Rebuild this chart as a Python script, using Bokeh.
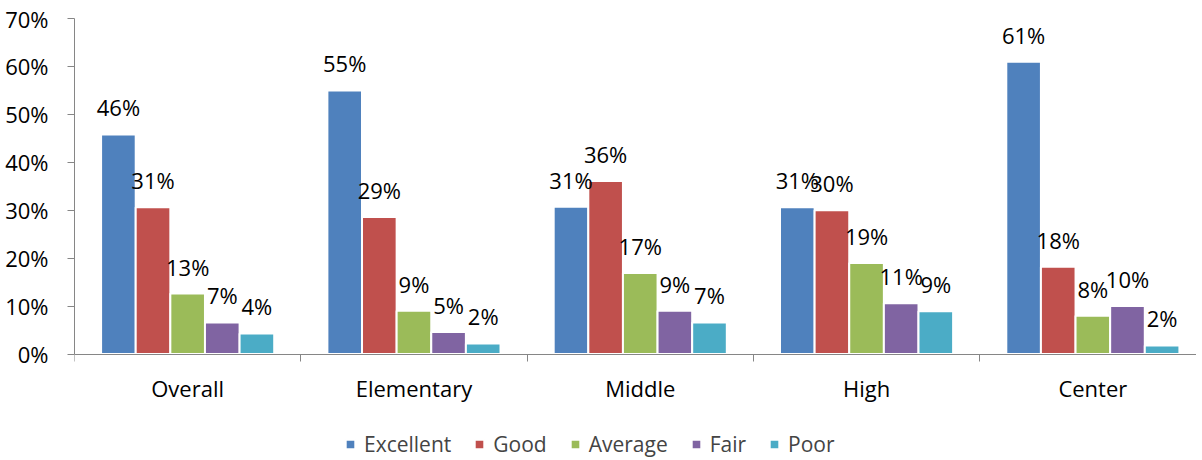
from bokeh.plotting import figure
from bokeh.models import ColumnDataSource, Range1d, FixedTicker, LabelSet, Legend, LegendItem
from bokeh.core.properties import value
from bokeh.embed import file_html
from bokeh.resources import INLINE

categories = ["Overall", "Elementary", "Middle", "High", "Center"]
series = ["Excellent", "Good", "Average", "Fair", "Poor"]
colors = ["#4F81BD", "#C0504D", "#9BBB59", "#8064A2", "#4BACC6"]
excellent = [45.8, 55.0, 30.7, 30.6, 61.0]
good = [30.6, 28.6, 36.1, 30.0, 18.2]
average = [12.6, 9.0, 16.9, 19.0, 8.0]
fair = [6.6, 4.6, 9.0, 10.6, 10.0]
poor = [4.3, 2.2, 6.6, 8.9, 1.8]
y_ticks = [0, 10, 20, 30, 40, 50, 60, 70]

all_values = [excellent, good, average, fair, poor]
FONT = "Open Sans"
FS = "22px"
AXIS_GRAY = "#868686"

p = figure(width=1196, height=458, x_range=Range1d(0, 4.958), y_range=Range1d(-21.8, 70),
           output_backend="svg", toolbar_location=None,
           min_border_left=74, min_border_top=18, min_border_right=0, min_border_bottom=0)
p.xgrid.visible = False
p.ygrid.visible = False
p.outline_line_color = None
p.background_fill_color = "white"

pitch = 0.153
items = []
for k, (name, col, vals) in enumerate(zip(series, colors, all_values)):
    off = (k - 2) * pitch
    xs = [i + 0.5 + off for i in range(len(categories))]
    src = ColumnDataSource(dict(x=xs, top=vals, text=[f"{v:.0f}%" for v in vals]))
    r = p.vbar(x="x", top="top", width=pitch, bottom=0, source=src,
               fill_color=col, line_color="white", line_width=2)
    items.append(LegendItem(label=name, renderers=[r]))
    lbl = LabelSet(x="x", y="top", text="text", source=src, y_offset=27,
                   text_align="center", text_baseline="middle",
                   text_font=value(FONT), text_font_size=FS, text_color="black")
    p.add_layout(lbl)

# y axis
ya = p.yaxis[0]
ya.bounds = (0, 70)
ya.ticker = FixedTicker(ticks=y_ticks, minor_ticks=[])
ya.major_label_overrides = {t: f"{t}%" for t in y_ticks}
ya.axis_line_color = AXIS_GRAY
ya.major_tick_line_color = AXIS_GRAY
ya.major_tick_out = 7
ya.major_tick_in = 0
ya.minor_tick_line_color = None
ya.major_label_text_font = FONT
ya.major_label_text_font_size = FS
ya.major_label_text_color = "black"
ya.major_label_standoff = 19

# x axis, pinned at y = 0
xa = p.xaxis[0]
xa.fixed_location = 0
centers = [i + 0.5 for i in range(len(categories))]
xa.ticker = FixedTicker(ticks=centers, minor_ticks=[i for i in range(len(categories) + 1)])
xa.major_label_overrides = {c: name for c, name in zip(centers, categories)}
xa.axis_line_color = AXIS_GRAY
xa.major_tick_line_color = None
xa.major_tick_out = 0
xa.major_tick_in = 0
xa.minor_tick_line_color = AXIS_GRAY
xa.minor_tick_out = 7
xa.minor_tick_in = 0
xa.major_label_text_font = FONT
xa.major_label_text_font_size = FS
xa.major_label_text_color = "black"
xa.major_label_standoff = 12

legend = Legend(items=items, orientation="horizontal", location=(270, 0),
                glyph_width=12, glyph_height=12, label_standoff=8, spacing=22,
                padding=0, margin=0, border_line_color=None,
                label_text_font=FONT, label_text_font_size="21px",
                background_fill_alpha=0)
p.add_layout(legend, "center")

open("out.html", "w").write(file_html(p, INLINE))
